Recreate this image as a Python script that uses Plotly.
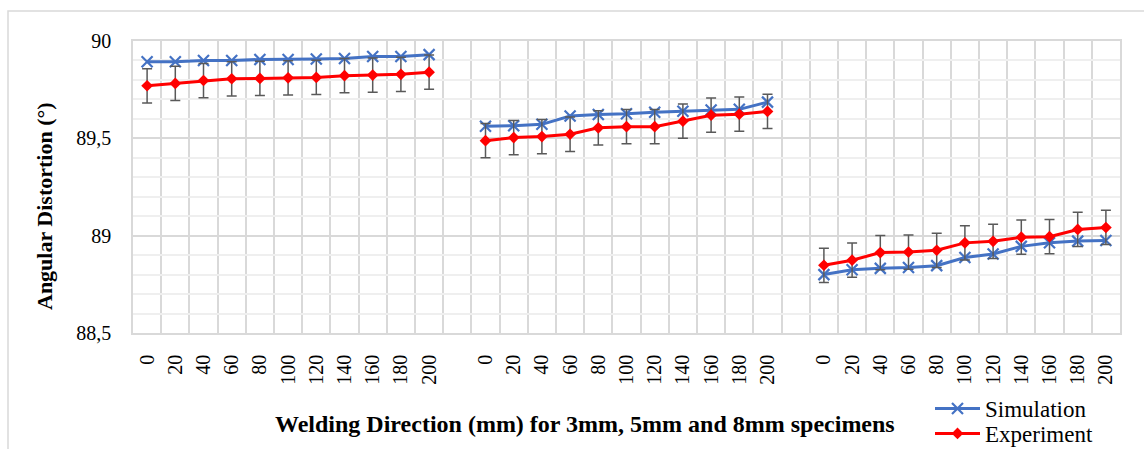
import plotly.graph_objects as go

positions = ["0", "20", "40", "60", "80", "100", "120", "140", "160", "180", "200"]
groups = ["3mm", "5mm", "8mm"]

sim_3mm = [89.893, 89.893, 89.900, 89.900, 89.905, 89.905, 89.908, 89.910, 89.920, 89.920, 89.930]
sim_5mm = [89.562, 89.565, 89.572, 89.615, 89.622, 89.626, 89.634, 89.639, 89.646, 89.649, 89.686]
sim_8mm = [88.800, 88.825, 88.832, 88.836, 88.846, 88.888, 88.906, 88.945, 88.964, 88.972, 88.975]

exp_3mm = [89.770, 89.782, 89.797, 89.806, 89.808, 89.811, 89.813, 89.822, 89.825, 89.829, 89.840]
exp_5mm = [89.488, 89.504, 89.509, 89.521, 89.554, 89.560, 89.560, 89.588, 89.619, 89.624, 89.638]
exp_8mm = [88.848, 88.874, 88.913, 88.916, 88.925, 88.963, 88.971, 88.992, 88.995, 89.032, 89.042]

exp_err = [0.088] * 11

sim_groups = [sim_3mm, sim_5mm, sim_8mm]
exp_groups = [exp_3mm, exp_5mm, exp_8mm]

# category slots: each group of 11 followed by one empty category
xs_all, labels_all = [], []
sim_x, sim_y, exp_x, exp_y, err = [], [], [], [], []
for g in range(len(groups)):
    for i, p in enumerate(positions):
        x = g * (len(positions) + 1) + i
        xs_all.append(x)
        labels_all.append(p)
        sim_x.append(x); sim_y.append(sim_groups[g][i])
        exp_x.append(x); exp_y.append(exp_groups[g][i])
        err.append(exp_err[i])
    if g < len(groups) - 1:
        sim_x.append(None); sim_y.append(None)
        exp_x.append(None); exp_y.append(None)
        err.append(None)

n_slots = len(groups) * (len(positions) + 1) - 1

BLUE = "#4472C4"
RED = "#FF0000"
GRID = "#d9d9d9"
MINOR = "#efefef"
FONT = "Liberation Serif"

fig = go.Figure()
fig.add_trace(go.Scatter(
    x=sim_x, y=sim_y, name="Simulation", mode="lines+markers",
    line=dict(color=BLUE, width=3),
    marker=dict(symbol="x-thin-open", size=11, line=dict(color=BLUE, width=2.2), color=BLUE),
    connectgaps=False, legend="legend",
))
fig.add_trace(go.Scatter(
    x=exp_x, y=exp_y, name="Experiment", mode="lines+markers",
    line=dict(color=RED, width=3),
    marker=dict(symbol="diamond", size=9, color=RED),
    error_y=dict(type="data", array=err, visible=True, color="#595959", thickness=1.5, width=5),
    connectgaps=False, legend="legend2",
))

L, R, T, B = 133, 24, 41, 116
W = 1144 - L - R
H = 449 - T - B

def px_x(p):
    return (p - L) / W

def px_y(p):
    return (449 - B - p) / H

def legend_box(top_px):
    return dict(
        xref="container", yref="container",
        x=930 / 1144, y=1 - top_px / 449, xanchor="left", yanchor="top",
        font=dict(family=FONT, size=23, color="black"),
        bgcolor="rgba(0,0,0,0)", itemwidth=45,
    )

fig.update_layout(
    width=1144, height=449,
    margin=dict(l=L, r=R, t=T, b=B, pad=0, autoexpand=False),
    paper_bgcolor="white", plot_bgcolor="white",
    separators=",.",
    font=dict(family=FONT, size=20, color="black"),
    showlegend=True,
    legend=legend_box(387),
    legend2=legend_box(412),
    xaxis=dict(
        range=[-0.5, n_slots - 0.5], automargin=False,
        tickmode="array", tickvals=xs_all, ticktext=labels_all,
        tickangle=-90, ticks="", showgrid=False, zeroline=False,
        tickfont=dict(family=FONT, size=20, color="black"),
        ticklabelstandoff=12,
        showline=True, mirror=True, linecolor=GRID, linewidth=1.5,
        minor=dict(tickmode="linear", tick0=-0.5, dtick=1, showgrid=True,
                   gridcolor=GRID, gridwidth=1.5, ticks=""),
    ),
    yaxis=dict(
        range=[88.5, 90], tickmode="linear", tick0=88.5, dtick=0.5, automargin=False,
        showgrid=True, gridcolor=GRID, gridwidth=1.5, zeroline=False,
        ticks="", tickfont=dict(family=FONT, size=20, color="black"),
        ticklabelstandoff=16,
        showline=True, mirror=True, linecolor=GRID, linewidth=1.5,
        minor=dict(tickmode="linear", tick0=88.5, dtick=0.1, showgrid=True,
                   gridcolor=MINOR, gridwidth=1.5, ticks=""),
        layer="below traces",
    ),
    annotations=[
        dict(text="<b>Welding Direction (mm) for 3mm, 5mm and 8mm specimens</b>",
             x=px_x(585), y=px_y(424), xref="paper", yref="paper",
             xanchor="center", yanchor="middle", showarrow=False,
             font=dict(family=FONT, size=24, color="black")),
        dict(text="<b>Angular Distortion (°)</b>", textangle=-90,
             x=px_x(45), y=px_y(206), xref="paper", yref="paper",
             xanchor="center", yanchor="middle", showarrow=False,
             font=dict(family=FONT, size=22, color="black")),
    ],
    shapes=[
        dict(type="rect", xref="paper", yref="paper",
             x0=px_x(8), y0=px_y(470), x1=px_x(1170), y1=px_y(11),
             line=dict(color=GRID, width=1.5), fillcolor="rgba(0,0,0,0)", layer="below"),
    ],
)

fig.write_html("out.html")
